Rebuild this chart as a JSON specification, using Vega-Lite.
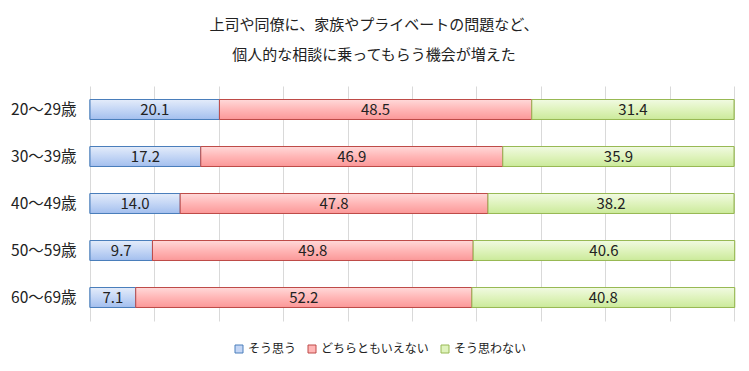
{
  "$schema": "https://vega.github.io/schema/vega-lite/v6.json",
  "width": 644,
  "height": 235,
  "autosize": {"type": "none"},
  "padding": {"left": 90, "top": 86, "right": 15, "bottom": 50},
  "background": "white",
  "title": {
    "text": ["上司や同僚に、家族やプライベートの問題など、", "個人的な相談に乗ってもらう機会が増えた"],
    "font": "Noto Sans CJK JP",
    "fontSize": 15,
    "fontWeight": "normal",
    "color": "#222222",
    "lineHeight": 30,
    "anchor": "middle",
    "frame": "group",
    "dx": -38,
    "offset": 23
  },
  "data": {
    "values": [
      {"age": "20～29歳", "series": "そう思う", "o": 1, "v": 20.1},
      {"age": "20～29歳", "series": "どちらともいえない", "o": 2, "v": 48.5},
      {"age": "20～29歳", "series": "そう思わない", "o": 3, "v": 31.4},
      {"age": "30～39歳", "series": "そう思う", "o": 1, "v": 17.2},
      {"age": "30～39歳", "series": "どちらともいえない", "o": 2, "v": 46.9},
      {"age": "30～39歳", "series": "そう思わない", "o": 3, "v": 35.9},
      {"age": "40～49歳", "series": "そう思う", "o": 1, "v": 14.0},
      {"age": "40～49歳", "series": "どちらともいえない", "o": 2, "v": 47.8},
      {"age": "40～49歳", "series": "そう思わない", "o": 3, "v": 38.2},
      {"age": "50～59歳", "series": "そう思う", "o": 1, "v": 9.7},
      {"age": "50～59歳", "series": "どちらともいえない", "o": 2, "v": 49.8},
      {"age": "50～59歳", "series": "そう思わない", "o": 3, "v": 40.6},
      {"age": "60～69歳", "series": "そう思う", "o": 1, "v": 7.1},
      {"age": "60～69歳", "series": "どちらともいえない", "o": 2, "v": 52.2},
      {"age": "60～69歳", "series": "そう思わない", "o": 3, "v": 40.8}
    ]
  },
  "encoding": {
    "y": {
      "field": "age",
      "type": "nominal",
      "sort": ["20～29歳", "30～39歳", "40～49歳", "50～59歳", "60～69歳"],
      "scale": {"paddingInner": 0.575, "paddingOuter": 0.2875},
      "axis": {
        "title": null,
        "domain": false,
        "ticks": false,
        "grid": false,
        "labelFont": "Noto Sans CJK JP",
        "labelFontSize": 15.5,
        "labelColor": "#222222",
        "labelPadding": 14
      }
    }
  },
  "layer": [
    {
      "mark": {"type": "bar", "strokeWidth": 1},
      "encoding": {
        "x": {
          "field": "v",
          "type": "quantitative",
          "stack": "zero",
          "scale": {"domain": [0, 100], "nice": false},
          "axis": {
            "title": null,
            "labels": false,
            "ticks": false,
            "domain": false,
            "grid": true,
            "gridColor": "#d9d9d9",
            "gridWidth": 1,
            "values": [0, 10, 20, 30, 40, 50, 60, 70, 80, 90, 100]
          }
        },
        "order": {"field": "o", "type": "quantitative"},
        "color": {
          "field": "series",
          "type": "nominal",
          "sort": ["そう思う", "どちらともいえない", "そう思わない"],
          "scale": {
            "domain": ["そう思う", "どちらともいえない", "そう思わない"],
            "range": ["#c4d6f5", "#ffb6b6", "#dff3bd"]
          },
          "legend": {
            "title": null,
            "orient": "none",
            "legendX": 143,
            "legendY": 257,
            "direction": "horizontal",
            "symbolType": "square",
            "symbolSize": 64,
            "symbolStrokeWidth": 1,
            "labelFont": "Noto Sans CJK JP",
            "labelFontSize": 12,
            "labelColor": "#222222",
            "labelOffset": 3,
            "columnPadding": 9
          }
        },
        "stroke": {
          "field": "series",
          "type": "nominal",
          "sort": ["そう思う", "どちらともいえない", "そう思わない"],
          "scale": {
            "domain": ["そう思う", "どちらともいえない", "そう思わない"],
            "range": ["#4a7ebb", "#be4b48", "#98b954"]
          },
          "legend": {
            "title": null,
            "orient": "none",
            "legendX": 143,
            "legendY": 257,
            "direction": "horizontal",
            "symbolType": "square",
            "symbolSize": 64,
            "labelFont": "Noto Sans CJK JP",
            "labelFontSize": 12,
            "labelColor": "#222222",
            "labelOffset": 3,
            "columnPadding": 9
          }
        }
      }
    },
    {
      "transform": [
        {"stack": "v", "groupby": ["age"], "sort": [{"field": "o"}], "as": ["v0", "v1"]},
        {"filter": "datum.o == 1"}
      ],
      "mark": {"type": "bar", "stroke": "#4a7ebb", "strokeWidth": 1,
        "color": {"gradient": "linear", "x1": 0, "y1": 0, "x2": 0, "y2": 1, "stops": [{"offset": 0, "color": "#e4ecfa"}, {"offset": 0.5, "color": "#c4d6f5"}, {"offset": 1, "color": "#a3bfee"}]}},
      "encoding": {"x": {"field": "v0", "type": "quantitative"}, "x2": {"field": "v1"}}
    },
    {
      "transform": [
        {"stack": "v", "groupby": ["age"], "sort": [{"field": "o"}], "as": ["v0", "v1"]},
        {"filter": "datum.o == 2"}
      ],
      "mark": {"type": "bar", "stroke": "#be4b48", "strokeWidth": 1,
        "color": {"gradient": "linear", "x1": 0, "y1": 0, "x2": 0, "y2": 1, "stops": [{"offset": 0, "color": "#ffd9d9"}, {"offset": 0.5, "color": "#ffb6b6"}, {"offset": 1, "color": "#fb9898"}]}},
      "encoding": {"x": {"field": "v0", "type": "quantitative"}, "x2": {"field": "v1"}}
    },
    {
      "transform": [
        {"stack": "v", "groupby": ["age"], "sort": [{"field": "o"}], "as": ["v0", "v1"]},
        {"filter": "datum.o == 3"}
      ],
      "mark": {"type": "bar", "stroke": "#98b954", "strokeWidth": 1,
        "color": {"gradient": "linear", "x1": 0, "y1": 0, "x2": 0, "y2": 1, "stops": [{"offset": 0, "color": "#f1fae2"}, {"offset": 0.5, "color": "#dff3bd"}, {"offset": 1, "color": "#cbea9a"}]}},
      "encoding": {"x": {"field": "v0", "type": "quantitative"}, "x2": {"field": "v1"}}
    },
    {
      "transform": [
        {"stack": "v", "groupby": ["age"], "sort": [{"field": "o"}], "as": ["v0", "v1"]},
        {"fold": ["v0", "v1"], "as": ["k", "pos"]},
        {"aggregate": [{"op": "mean", "field": "pos", "as": "mid"}], "groupby": ["age", "series", "v"]}
      ],
      "mark": {"type": "text", "font": "Noto Sans CJK JP", "fontSize": 15, "color": "#222222", "align": "center", "baseline": "middle"},
      "encoding": {
        "x": {"field": "mid", "type": "quantitative"},
        "text": {"field": "v", "type": "quantitative", "format": ".1f"}
      }
    }
  ],
  "config": {"view": {"stroke": null}}
}
